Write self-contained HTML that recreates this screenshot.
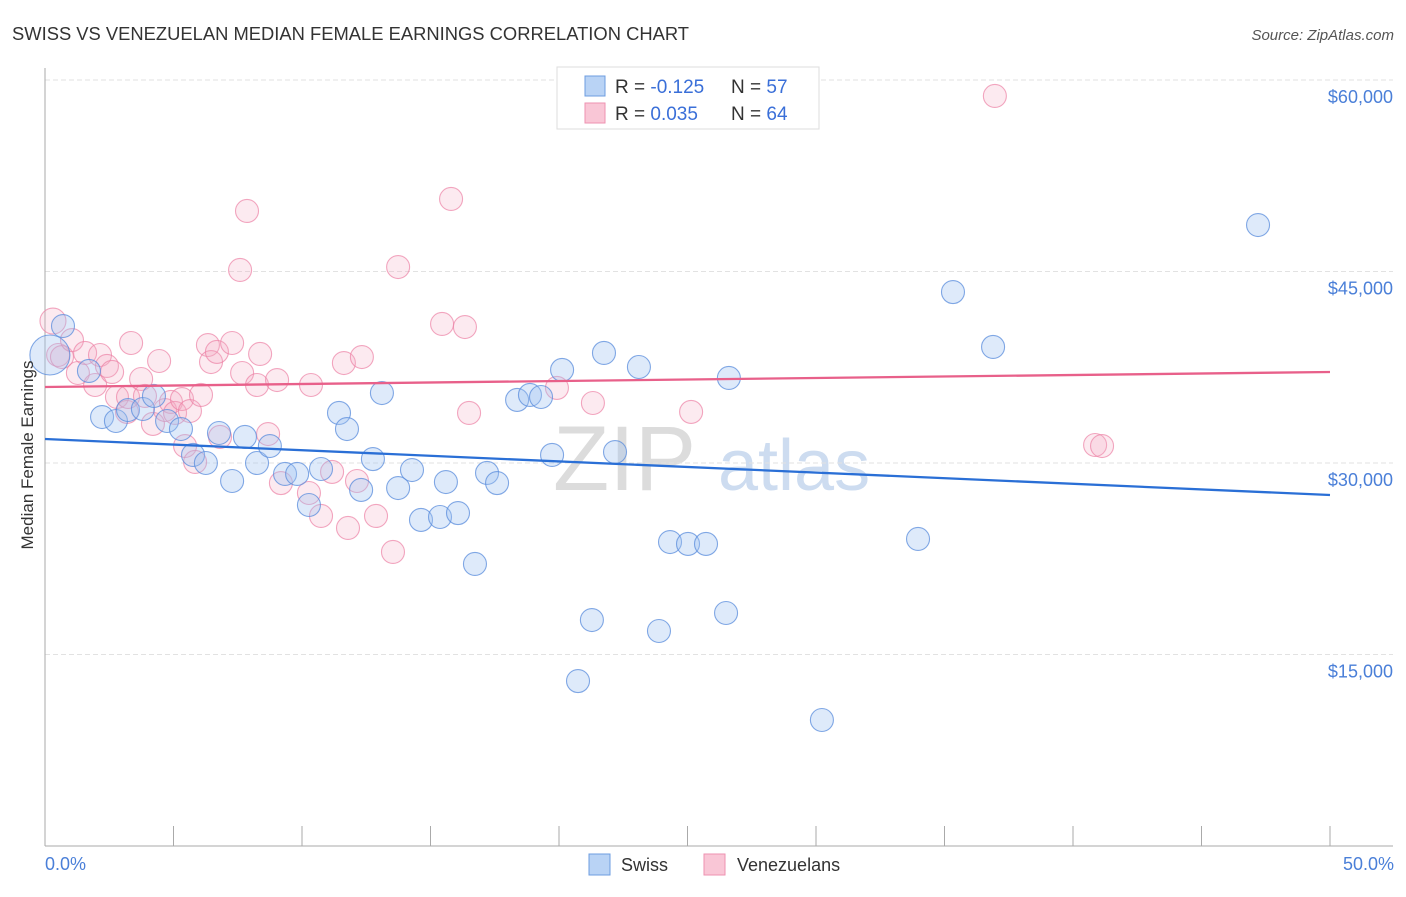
<!DOCTYPE html>
<html><head><meta charset="utf-8"><style>
body{margin:0;background:#fff;font-family:"Liberation Sans",sans-serif}
svg text{font-family:"Liberation Sans",sans-serif}
</style></head><body>
<svg id="c" width="1406" height="892" xmlns="http://www.w3.org/2000/svg">
<text x="12" y="40" font-size="18" fill="#333" textLength="677" lengthAdjust="spacingAndGlyphs">SWISS VS VENEZUELAN MEDIAN FEMALE EARNINGS CORRELATION CHART</text>
<text x="1394" y="40" font-size="15" fill="#555" font-style="italic" text-anchor="end">Source: ZipAtlas.com</text>
<g><text x="553" y="490" font-size="92" fill="#dcdcdc" font-family="Liberation Serif">ZIP</text><text x="718" y="490" font-size="72" fill="#cddcf0">atlas</text></g>
<g id="grid"></g><g id="axes"></g><g id="pts"></g><g id="trend"></g>
<text x="33" y="455" font-size="17" fill="#333" text-anchor="middle" transform="rotate(-90 33 455)">Median Female Earnings</text>
<text x="45" y="870" font-size="18" fill="#4a7fd8">0.0%</text>
<text x="1394" y="870" font-size="18" fill="#4a7fd8" text-anchor="end">50.0%</text>
<g>
<rect x="557" y="67" width="262" height="62" fill="#fff" stroke="#ddd"/>
<rect x="585" y="76" width="20" height="20" fill="#b9d3f5" stroke="#6d9de0"/>
<rect x="585" y="103" width="20" height="20" fill="#f9c6d6" stroke="#ee92b0"/>
<text x="615" y="93" font-size="19" fill="#333">R = <tspan fill="#3a6fd8">-0.125</tspan></text>
<text x="731" y="93" font-size="19" fill="#333">N = <tspan fill="#3a6fd8">57</tspan></text>
<text x="615" y="120" font-size="19" fill="#333">R = <tspan fill="#3a6fd8"> 0.035</tspan></text>
<text x="731" y="120" font-size="19" fill="#333">N = <tspan fill="#3a6fd8">64</tspan></text>
</g>
<g>
<rect x="589" y="854" width="21" height="21" fill="#b9d3f5" stroke="#6d9de0"/>
<text x="621" y="871" font-size="18" fill="#333">Swiss</text>
<rect x="704" y="854" width="21" height="21" fill="#f9c6d6" stroke="#ee92b0"/>
<text x="737" y="871" font-size="18" fill="#333">Venezuelans</text>
</g>
</svg>
<script>
const yTicks=[15000,30000,45000,60000];
const xTicks=[0,5,10,15,20,25,30,35,40,45,50];
const swissX=[0.19,0.70,1.71,2.22,2.76,3.23,3.81,4.24,4.75,5.29,5.76,6.26,6.77,7.28,7.78,8.25,8.75,9.34,9.81,10.27,10.74,11.44,11.75,12.30,12.76,13.11,13.74,14.28,14.63,15.37,15.60,16.07,16.73,17.20,17.59,18.37,18.87,19.30,19.73,20.12,20.74,21.28,21.75,22.18,23.11,23.89,24.32,25.02,25.72,26.50,26.61,30.23,33.97,35.33,36.89,47.20];
const swissY=[38460,40730,37210,33600,33290,34150,34230,35250,33290,32660,30630,30000,32350,28590,32040,30000,31330,29140,29140,26710,29530,33920,32660,27890,30310,35480,28040,29450,25540,25770,28510,26080,22090,29220,28430,34940,35330,35170,30630,37290,12920,17700,38620,30860,37520,16840,23810,23660,23660,18250,36660,9870,24050,43390,39090,48640];
const venX=[0.31,0.51,0.66,1.05,1.28,1.56,1.95,2.14,2.41,2.61,2.80,3.19,3.35,3.23,3.74,3.89,4.20,4.44,4.67,4.90,5.06,5.33,5.45,5.64,5.84,6.07,6.34,6.46,6.69,6.81,7.28,7.59,7.67,7.86,8.25,8.37,8.68,9.03,9.18,10.27,10.35,10.74,11.17,11.63,11.79,12.14,12.33,12.88,13.54,13.74,15.45,15.80,16.34,16.50,19.92,21.32,25.14,36.96,40.86,41.13];
const venY=[41120,38460,38300,39630,37050,38620,36110,38460,37600,37130,35170,34000,39400,35170,36580,35250,33060,37990,34150,34780,33920,35010,31330,34070,30080,35330,39240,37910,38700,32040,39400,45120,37050,49740,36110,38540,32270,36500,28430,27650,36110,25850,29300,37830,24910,28590,38300,25850,23030,45350,40890,50680,40650,33920,35880,34700,34000,58750,31410,31330];
const swissTrend=[31880,27494];
const venTrend=[35953,37128];
const NS="http://www.w3.org/2000/svg";
const X=v=>45+v*25.7, Y=v=>846-v*191.5/15000;
function mk(t,a,p){const e=document.createElementNS(NS,t);for(const k in a)e.setAttribute(k,a[k]);document.getElementById(p).appendChild(e);return e;}
yTicks.forEach(t=>{
 const l=mk('line',{x1:45,x2:1393,y1:Y(t),y2:Y(t),stroke:'#e2e2e2','stroke-dasharray':'5,3'},'grid');
 
 
 const tx=mk('text',{x:1393,y:Y(t)+23,'font-size':18,fill:'#4a7fd8','text-anchor':'end'},'grid');
 tx.textContent='$'+t.toLocaleString('en-US');
 
 
});
let a=mk('line',{x1:45,x2:45,y1:68,y2:846,stroke:'#aaa'},'axes');


a=mk('line',{x1:45,x2:1393,y1:846,y2:846,stroke:'#aaa'},'axes');


xTicks.forEach(t=>{
 const l=mk('line',{x1:X(t),x2:X(t),y1:826,y2:846,stroke:'#aaa'},'axes');
 
 
});
function pts(xs,ys,fill,stroke,name){
 xs.forEach((x,i)=>{
  const r=(i===0&&name==='swiss-point')?20:(i===0?13:11.5);
  const c=mk('circle',{cx:X(x),cy:Y(ys[i]),r:r,fill:fill,stroke:stroke,'stroke-width':1.1},'pts');
  
  
 });
}
pts(venX,venY,'rgba(245,170,195,0.25)','rgba(236,130,165,0.7)','venezuelan-point');
pts(swissX,swissY,'rgba(160,196,240,0.35)','rgba(90,140,220,0.75)','swiss-point');
let tl=mk('line',{x1:X(0),x2:X(50),y1:Y(swissTrend[0]),y2:Y(swissTrend[1]),stroke:'#2a6fd6','stroke-width':2.3},'trend');


tl=mk('line',{x1:X(0),x2:X(50),y1:Y(venTrend[0]),y2:Y(venTrend[1]),stroke:'#e8608a','stroke-width':2.3},'trend');


</script>
</body></html>
